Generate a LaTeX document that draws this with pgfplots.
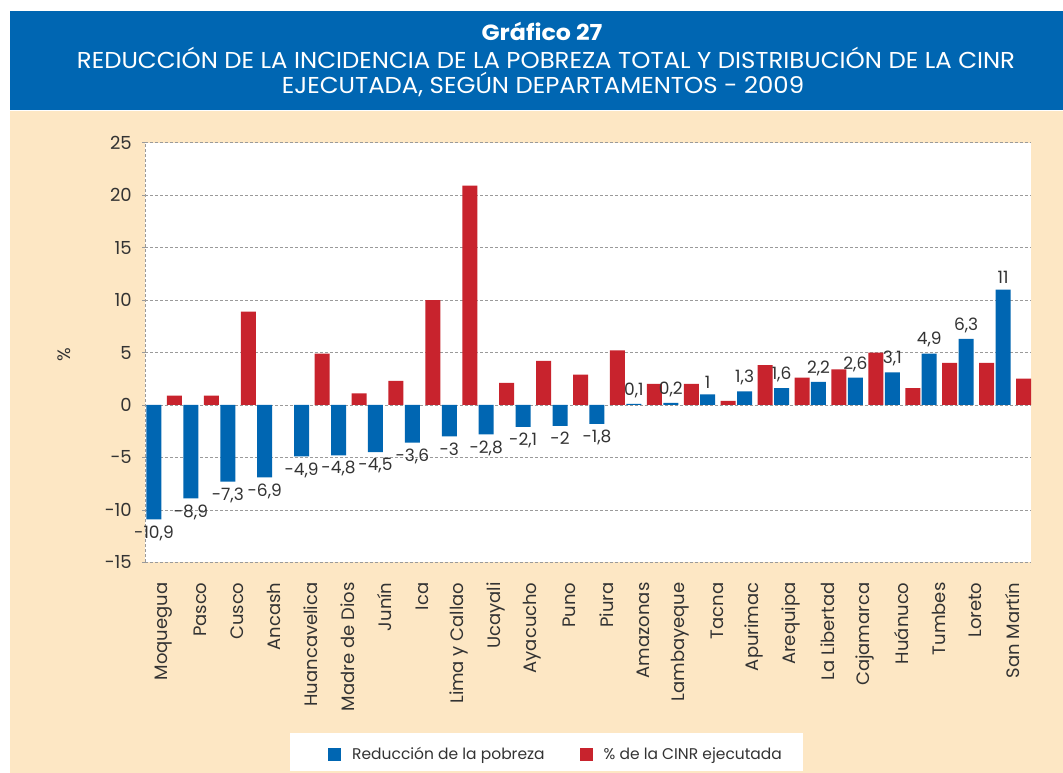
\documentclass[border=0pt]{standalone}
\usepackage{fontspec}
\setmainfont{Poppins}
\newfontfamily\titlefont{Poppins}[FakeStretch=1.06]
\newfontfamily\titleboldfont{Poppins}[FakeStretch=1.08]
\usepackage{pgfplots}
\pgfplotsset{compat=1.18}
\definecolor{barblue}{HTML}{0066B2}
\definecolor{barred}{HTML}{C8232D}
\definecolor{beige}{HTML}{FDE7C4}
\definecolor{txt}{HTML}{333333}
\definecolor{gridc}{HTML}{9A9A9A}
\begin{document}
\begin{tikzpicture}
\path[use as bounding box] (0pt,0pt) rectangle (1063pt,-773pt);
\fill[white] (0pt,0pt) rectangle (1063pt,-773pt);
\fill[barblue] (10pt,-11pt) rectangle (1063pt,-110pt);
\fill[beige] (10pt,-111pt) rectangle (1063pt,-773pt);
\node[anchor=base, text=white, font=\titleboldfont\bfseries\fontsize{22pt}{24pt}\selectfont] at (542pt,-40.7pt) {Gráfico 27};
\node[anchor=base, text=white, font=\titlefont\fontsize{23pt}{25pt}\selectfont] at (546pt,-68.3pt) {REDUCCIÓN DE LA INCIDENCIA DE LA POBREZA TOTAL Y DISTRIBUCIÓN DE LA CINR};
\node[anchor=base, text=white, font=\titlefont\fontsize{23pt}{25pt}\selectfont] at (543pt,-94pt) {EJECUTADA, SEGÚN DEPARTAMENTOS - 2009};
\fill[white] (290pt,-732.7pt) rectangle (803pt,-770.7pt);
\node[rotate=90, text=txt, font=\fontsize{18pt}{20pt}\selectfont] at (64pt,-355pt) {\%};
\begin{axis}[
  at={(145pt,-562.3pt)}, anchor=south west,
  width=886pt, height=419.6pt, scale only axis,
  xmin=-0.5, xmax=23.5, ymin=-15, ymax=25,
  ytick={-15,-10,...,25},
  xtick={0,...,23},
  xticklabels={Moquegua,Pasco,Cusco,Ancash,Huancavelica,Madre de Dios,Junín,Ica,Lima y Callao,Ucayali,Ayacucho,Puno,Piura,Amazonas,Lambayeque,Tacna,Apurimac,Arequipa,La Libertad,Cajamarca,Huánuco,Tumbes,Loreto,San Martín},
  xticklabel style={rotate=90, anchor=east, inner sep=0pt, text=txt, font=\fontsize{18pt}{20pt}\selectfont},
  xticklabel shift=17pt,
  yticklabel style={text=txt, inner sep=0pt, font=\fontsize{18pt}{20pt}\selectfont},
  yticklabel shift=10pt,
  /pgf/number format/.cd, use comma, assume math mode=true, /pgfplots/.cd,
  ybar, bar width=15pt,
  axis background/.style={fill=white},
  ymajorgrids, major grid style={densely dashed, gridc, line width=0.7pt},
  axis x line*=box, axis y line*=left,
  axis line style={-, densely dashed, gridc, line width=0.7pt},
  xtick style={draw=none},
  ytick style={densely dashed, gridc, line width=0.7pt},
  major tick length=3pt, tick align=outside,
  legend columns=2,
  legend style={at={(0.2065,-0.4569)}, anchor=west, draw=none, fill=none, inner sep=0pt,
    font=\fontsize{15.5pt}{17pt}\selectfont, text=txt,
    /tikz/every even column/.append style={column sep=33pt},
    /tikz/every odd column/.append style={column sep=9pt}},
  legend cell align=left,
]
\addplot[fill=barblue, draw=none, bar shift=-9.5pt,
  nodes near coords,
  every node near coord/.append style={text=txt, inner xsep=0pt, inner ysep=6pt, font=\fontsize{17pt}{19pt}\selectfont},
  legend image code/.code={\fill[barblue] (0pt,-6.5pt) rectangle (13pt,6.5pt);}]
coordinates {(0,-10.9) (1,-8.9) (2,-7.3) (3,-6.9) (4,-4.9) (5,-4.8) (6,-4.5) (7,-3.6) (8,-3) (9,-2.8) (10,-2.1) (11,-2) (12,-1.8) (13,0.1) (14,0.2) (15,1) (16,1.3) (17,1.6) (18,2.2) (19,2.6) (20,3.1) (21,4.9) (22,6.3) (23,11)};
\addlegendentry{Reducción de la pobreza}
\addplot[fill=barred, draw=none, bar shift=11pt,
  legend image code/.code={\fill[barred] (0pt,-6.5pt) rectangle (13pt,6.5pt);}]
coordinates {(0,0.9) (1,0.9) (2,8.9) (4,4.9) (5,1.1) (6,2.3) (7,10) (8,20.9) (9,2.1) (10,4.2) (11,2.9) (12,5.2) (13,2.0) (14,2.0) (15,0.4) (16,3.8) (17,2.6) (18,3.4) (19,5.0) (20,1.6) (21,4.0) (22,4.0) (23,2.5)};
\addlegendentry{\% de la CINR ejecutada}
\end{axis}
\end{tikzpicture}
\end{document}
